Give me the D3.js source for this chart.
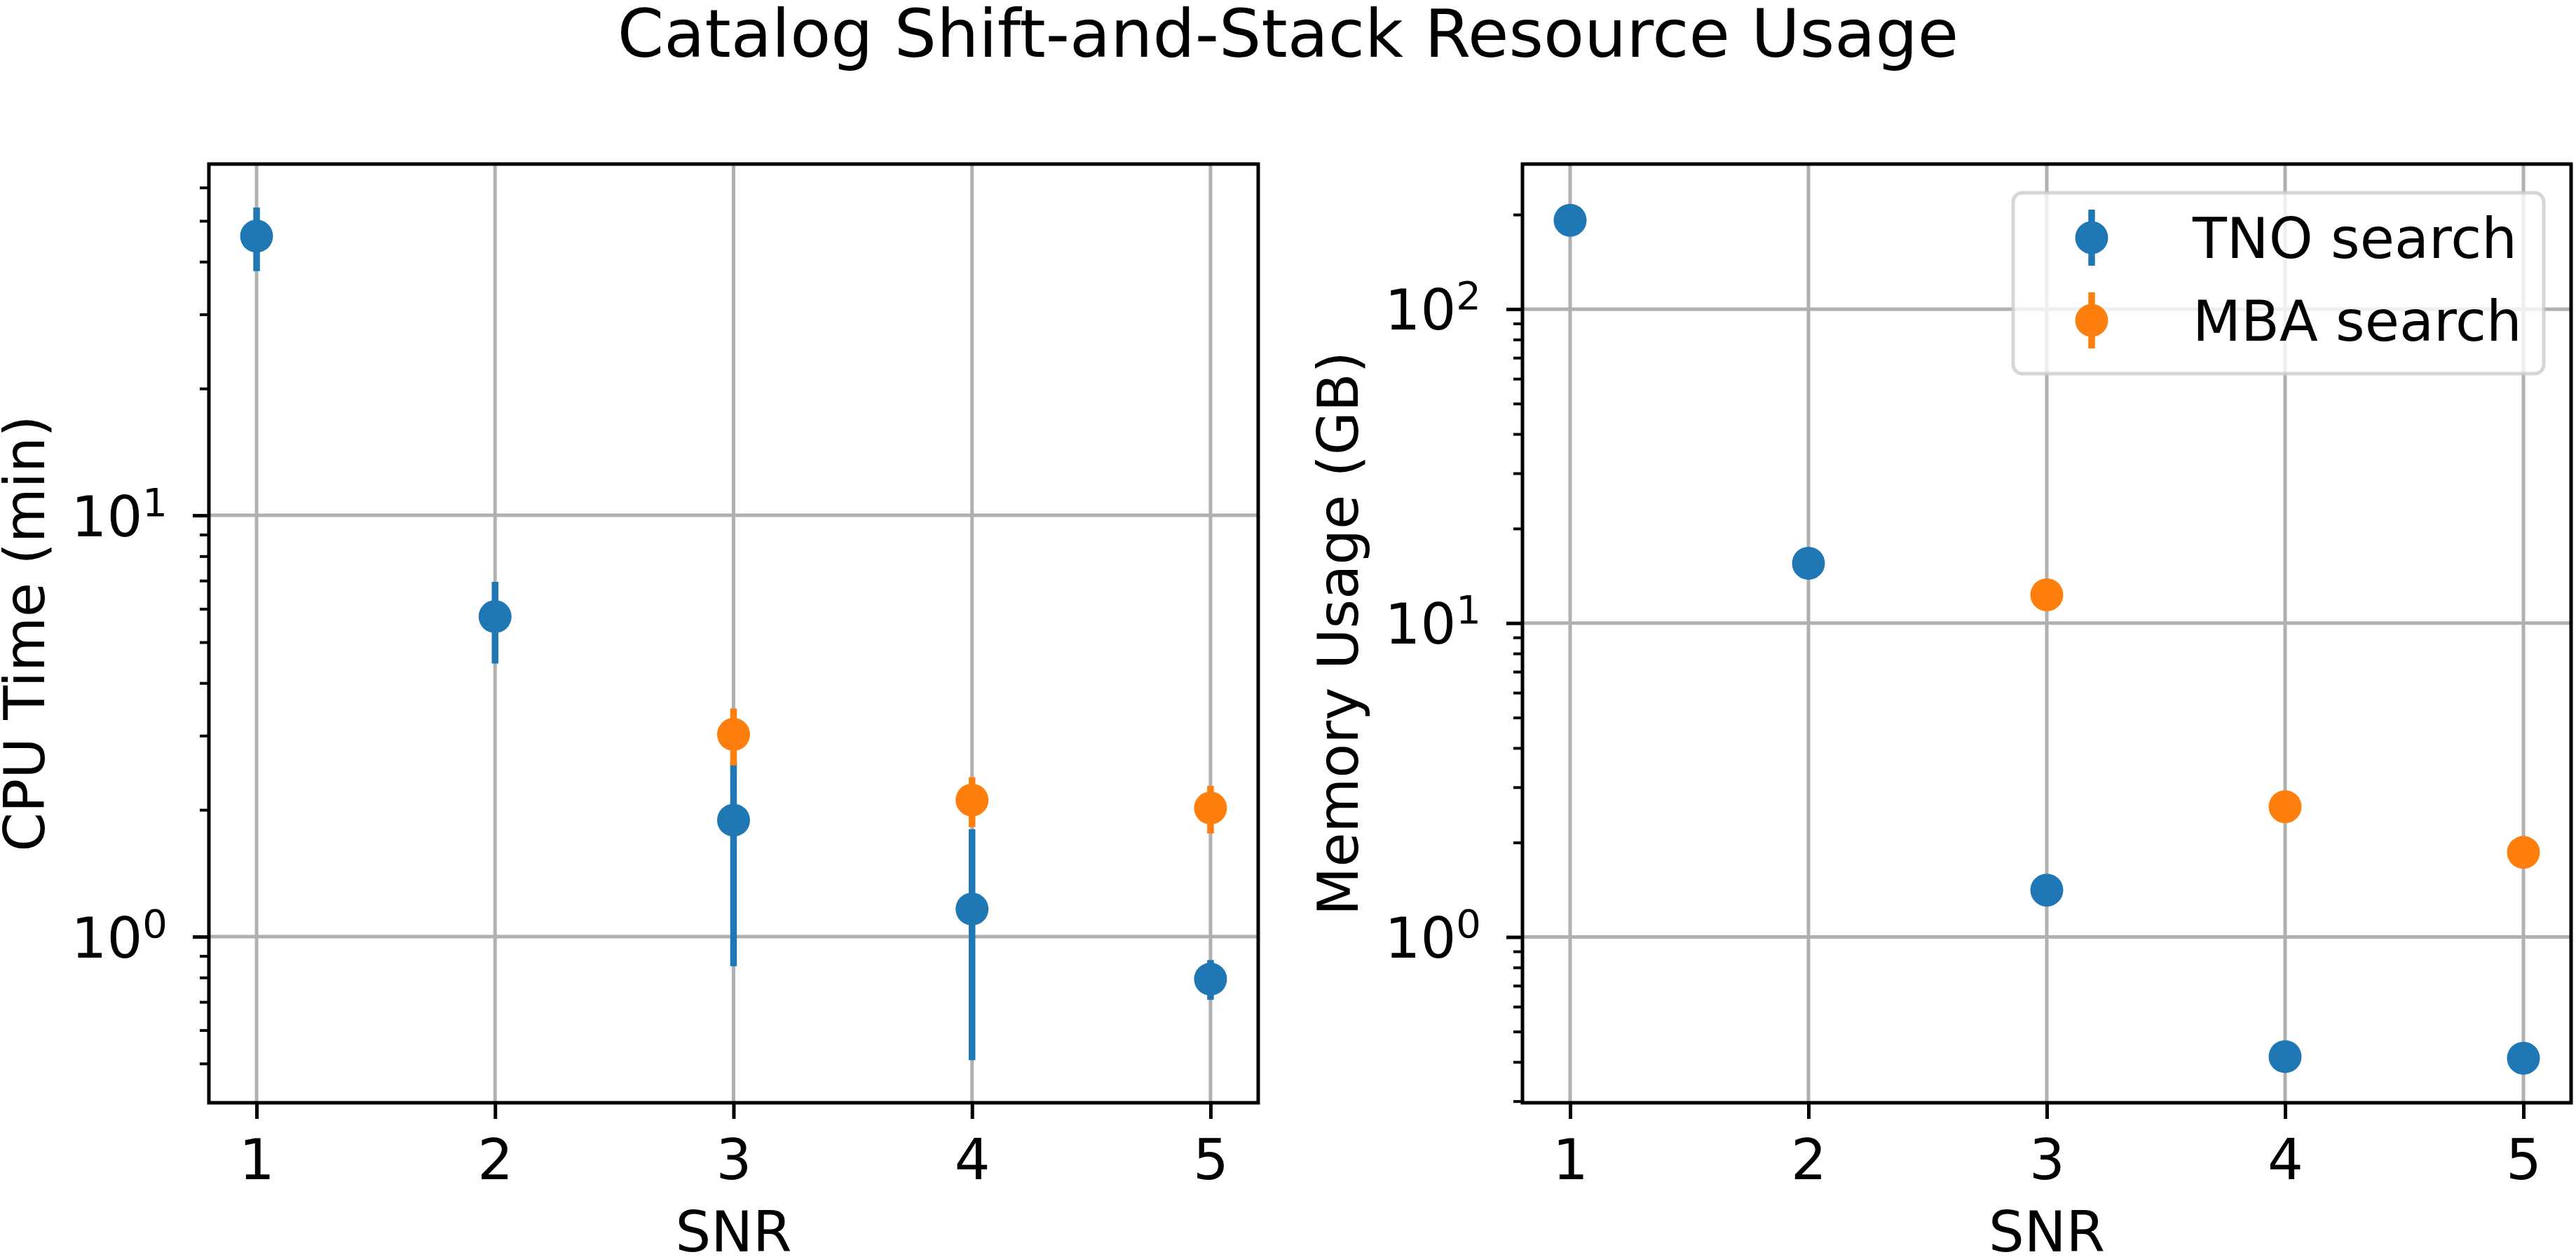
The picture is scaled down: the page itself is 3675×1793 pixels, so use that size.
<!DOCTYPE html>
<html><head><meta charset="utf-8">
<script src="https://cdn.jsdelivr.net/npm/d3@7"></script>
<style>
body{margin:0;background:#fff}
svg{display:block}
text{font-family:"DejaVu Sans",sans-serif;fill:#000}
</style>
</head><body>
<svg id="c" width="3675" height="1793"></svg>
<script>
// ---------- data ----------
const seriesNames = ["TNO search", "MBA search"];
const seriesColors = ["#1f77b4", "#ff7f0e"];
const xTicks = [1, 2, 3, 4, 5];

const tnoSnr = [1, 2, 3, 4, 5];
const tnoCpu   = [46.0, 5.75, 1.89, 1.163, 0.793];
const tnoCpuLo = [38.0, 4.45, 0.851, 0.509, 0.708];
const tnoCpuHi = [53.8, 6.95, 2.6, 1.8, 0.880];
const tnoMem   = [191.8, 15.5, 1.41, 0.416, 0.411];

const mbaSnr = [3, 4, 5];
const mbaCpu   = [3.02, 2.11, 2.02];
const mbaCpuLo = [2.55, 1.82, 1.757];
const mbaCpuHi = [3.48, 2.39, 2.28];
const mbaMem   = [12.3, 2.60, 1.86];

const cpuMajorTicks = [1, 10];
const cpuMajorExp = ["0", "1"];
const memMajorTicks = [1, 10, 100];
const memMajorExp = ["0", "1", "2"];

const title = "Catalog Shift-and-Stack Resource Usage";
const xLabel = "SNR";
const cpuLabel = "CPU Time (min)";
const memLabel = "Memory Usage (GB)";

// ---------- layout ----------
const svg = d3.select("#c");
const TOP = 234, BOTTOM = 1573;
const FS = 80;

svg.append("text").attr("x", 1837.5).attr("y", 81).attr("text-anchor", "middle")
  .attr("font-size", 95).text(title);

function panel(opt) {
  const x = d3.scaleLinear().domain([0.8, 5.2]).range([opt.x0, opt.x1]);
  const y = d3.scaleLog().domain(opt.yDomain).range([BOTTOM, TOP]);
  const g = svg.append("g");

  // grid
  g.append("g").selectAll("line").data(xTicks).join("line")
    .attr("x1", d => x(d)).attr("x2", d => x(d)).attr("y1", TOP).attr("y2", BOTTOM)
    .attr("stroke", "#b0b0b0").attr("stroke-width", 5);
  g.append("g").selectAll("line").data(opt.major).join("line")
    .attr("x1", opt.x0).attr("x2", opt.x1).attr("y1", d => y(d)).attr("y2", d => y(d))
    .attr("stroke", "#b0b0b0").attr("stroke-width", 5);

  // series
  opt.series.forEach((s, si) => {
    const sg = g.append("g");
    const pts = s.x.map((xv, i) => ({x: xv, v: s.v[i], lo: s.lo ? s.lo[i] : null, hi: s.hi ? s.hi[i] : null}));
    if (s.lo) {
      sg.selectAll("line").data(pts).join("line")
        .attr("x1", d => x(d.x)).attr("x2", d => x(d.x))
        .attr("y1", d => y(d.lo)).attr("y2", d => y(d.hi))
        .attr("stroke", seriesColors[si]).attr("stroke-width", 9.5);
    }
    sg.selectAll("circle").data(pts).join("circle")
      .attr("cx", d => x(d.x)).attr("cy", d => y(d.v)).attr("r", 23.5)
      .attr("fill", seriesColors[si]);
  });

  // frame
  g.append("rect").attr("x", opt.x0).attr("y", TOP).attr("width", opt.x1 - opt.x0)
    .attr("height", BOTTOM - TOP).attr("fill", "none").attr("stroke", "#000").attr("stroke-width", 5);

  // x axis
  const xa = g.append("g").attr("transform", `translate(0,${BOTTOM})`)
    .call(d3.axisBottom(x).tickValues(xTicks).tickSize(23).tickFormat(d3.format("d")));
  xa.select(".domain").remove();
  xa.selectAll(".tick line").attr("stroke-width", 5);
  xa.selectAll(".tick text").attr("y", 109).attr("dy", 0).attr("font-size", FS)
    .attr("font-family", "DejaVu Sans").attr("fill", "#000");

  // y minor ticks
  const minor = y.ticks().filter(t => !opt.major.some(m => Math.abs(m - t) < 1e-9));
  const ym = g.append("g").attr("transform", `translate(${opt.x0},0)`)
    .call(d3.axisLeft(y).tickValues(minor).tickSize(13).tickFormat(""));
  ym.select(".domain").remove();
  ym.selectAll(".tick line").attr("stroke-width", 4);
  ym.selectAll(".tick text").remove();

  // y major ticks
  const ya = g.append("g").attr("transform", `translate(${opt.x0},0)`)
    .call(d3.axisLeft(y).tickValues(opt.major).tickSize(23).tickFormat(""));
  ya.select(".domain").remove();
  ya.selectAll(".tick line").attr("stroke-width", 5);
  ya.selectAll(".tick text").each(function(d, i) {
    const t = d3.select(this);
    t.text(null).attr("x", -59).attr("y", 29).attr("dy", 0).attr("text-anchor", "end")
      .attr("font-size", FS).attr("font-family", "DejaVu Sans").attr("fill", "#000");
    t.append("tspan").text("10");
    t.append("tspan").attr("dy", -29).attr("font-size", 56).text(opt.exp[i]);
  });

  // labels
  svg.append("text").attr("x", (opt.x0 + opt.x1) / 2).attr("y", 1785)
    .attr("text-anchor", "middle").attr("font-size", FS).text(xLabel);
  svg.append("text").attr("transform", `translate(${opt.yLabelX},${(TOP + BOTTOM) / 2}) rotate(-90)`)
    .attr("text-anchor", "middle").attr("font-size", FS).text(opt.yLabel);

  return {x, y, g};
}

panel({
  x0: 298, x1: 1795, yDomain: [0.4034, 68.2], major: cpuMajorTicks, exp: cpuMajorExp,
  yLabel: cpuLabel, yLabelX: 63,
  series: [
    {x: tnoSnr, v: tnoCpu, lo: tnoCpuLo, hi: tnoCpuHi},
    {x: mbaSnr, v: mbaCpu, lo: mbaCpuLo, hi: mbaCpuHi}
  ]
});

panel({
  x0: 2172, x1: 3668, yDomain: [0.2965, 289.7], major: memMajorTicks, exp: memMajorExp,
  yLabel: memLabel, yLabelX: 1937,
  series: [
    {x: tnoSnr, v: tnoMem},
    {x: mbaSnr, v: mbaMem}
  ]
});

// legend
const lg = svg.append("g");
const LX = 2872, LY = 275, LW = 757, LH = 258;
lg.append("rect").attr("x", LX).attr("y", LY).attr("width", LW).attr("height", LH)
  .attr("rx", 13).attr("fill", "#fff").attr("fill-opacity", 0.8)
  .attr("stroke", "#cccccc").attr("stroke-opacity", 0.8).attr("stroke-width", 5);
const rowY = [339, 457];
seriesNames.forEach((name, i) => {
  lg.append("line").attr("x1", LX + 112).attr("x2", LX + 112)
    .attr("y1", rowY[i] - 40).attr("y2", rowY[i] + 40)
    .attr("stroke", seriesColors[i]).attr("stroke-width", 9.5);
  lg.append("circle").attr("cx", LX + 112).attr("cy", rowY[i]).attr("r", 23.5).attr("fill", seriesColors[i]);
  lg.append("text").attr("x", LX + 256).attr("y", rowY[i] + 29).attr("font-size", FS).text(name);
});
</script>
</body></html>
